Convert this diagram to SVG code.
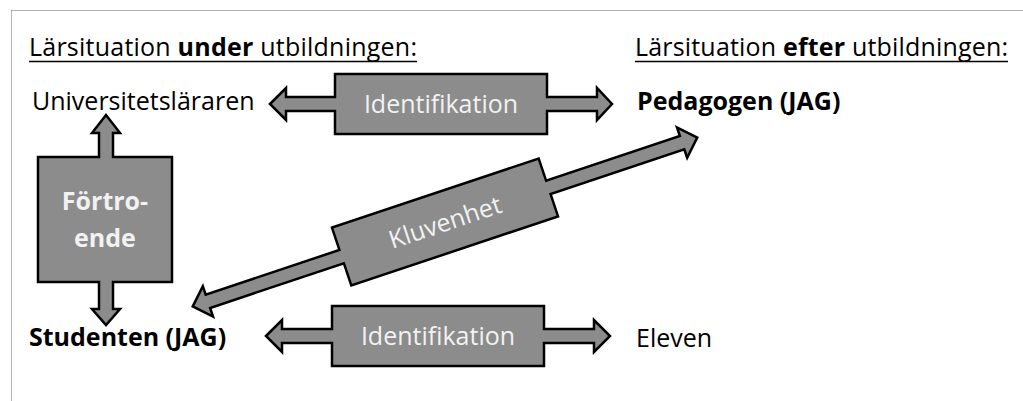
<svg xmlns="http://www.w3.org/2000/svg" width="1023" height="401" viewBox="0 0 1023 401">
<style>
.lbl{font-family:"Open Sans","Liberation Sans",sans-serif;font-size:25px;fill:#000}
.b{font-weight:bold}
.in{font-family:"Open Sans","Liberation Sans",sans-serif;font-size:25px;fill:#f2f2f2;text-anchor:middle}
.shape{fill:#8c8c8c;stroke:#000;stroke-width:2.5;stroke-linejoin:miter}
.ul{stroke:#000;stroke-width:1.5}
</style>
<rect width="1023" height="401" fill="#fff"/>
<path d="M11.5 10.5H1023M11.5 10.5V401" fill="none" stroke="#666" stroke-width="1" stroke-dasharray="1 1"/>
<g id="headers">
<text class="lbl" x="29" y="56" textLength="388" lengthAdjust="spacing">Lärsituation <tspan class="b">under</tspan> utbildningen:</text>
<line class="ul" x1="29" y1="61.5" x2="417" y2="61.5"/>
<text class="lbl" x="635" y="56" textLength="373" lengthAdjust="spacing">Lärsituation <tspan class="b">efter</tspan> utbildningen:</text>
<line class="ul" x1="635" y1="61.5" x2="1008" y2="61.5"/>
</g>
<g id="universitetslararen"><text class="lbl" x="32" y="110">Universitetsläraren</text></g>
<g id="pedagogen"><text class="lbl b" x="637" y="110">Pedagogen (JAG)</text></g>
<g id="studenten"><text class="lbl b" x="29" y="346">Studenten (JAG)</text></g>
<g id="eleven"><text class="lbl" x="636" y="347">Eleven</text></g>
<g id="connectors">
<g id="identifikation-top">
<path class="shape" d="M270 104L286 88V97H335V74H547V97H597V88L612 104L597 120V111H547V134H335V111H286V120Z"/>
<text class="in" x="441" y="113">Identifikation</text>
</g>
<g id="identifikation-bottom">
<path class="shape" d="M266 336L282 320V329H332V306H544V329H594V320L610 336L594 352V343H544V366H332V343H282V352Z"/>
<text class="in" x="438" y="345">Identifikation</text>
</g>
<g id="fortroende">
<path class="shape" d="M106 115L120 133H113V157H172V282H113V309H120L106 325L92 309H99V282H38V157H99V133H92Z"/>
<text class="in b" x="105" y="210">Förtro-</text>
<text class="in b" x="105" y="247">ende</text>
</g>
<g id="kluvenhet" transform="translate(445 222) rotate(-18.5)">
<path class="shape" d="M-266 0L-250 -16V-7H-109V-30.5H109V-7H250V-16L266 0L250 16V7H109V30.5H-109V7H-250V16Z"/>
<text class="in" x="0" y="9">Kluvenhet</text>
</g>
</g>
</svg>
